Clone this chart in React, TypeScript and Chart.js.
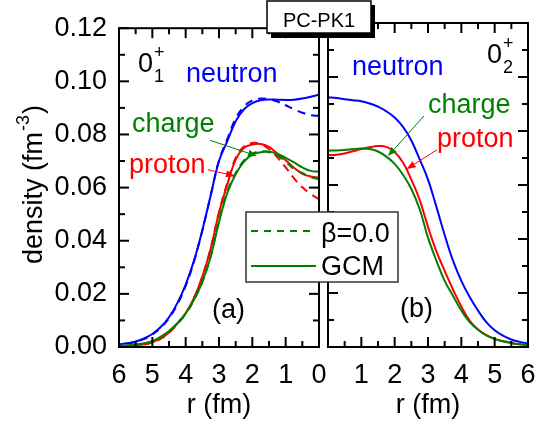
import React, { useEffect, useRef } from "react";
import { Chart, registerables } from "chart.js";

Chart.register(...registerables);

const FONT = "'Liberation Sans', Arial, Helvetica, sans-serif";
const W = 548;
const H = 423;

// radius grid (fm)
const radius = [0, 0.25, 0.5, 0.75, 1, 1.25, 1.5, 1.75, 2, 2.25, 2.5, 2.75, 3, 3.25, 3.5, 3.75, 4, 4.25, 4.5, 4.75, 5, 5.25, 5.5, 5.75, 6];

// panel (a): 0_1^+
const neutronGcmA = [0.0950, 0.0942, 0.0935, 0.0931, 0.0930, 0.0931, 0.0932, 0.0929, 0.0918, 0.0895, 0.0850, 0.0775, 0.0700, 0.0570, 0.0440, 0.0325, 0.0235, 0.0165, 0.0112, 0.0075, 0.0049, 0.0032, 0.0021, 0.0014, 0.0010];
const neutronBetaA = [0.0870, 0.0873, 0.0882, 0.0895, 0.0910, 0.0924, 0.0933, 0.0935, 0.0928, 0.0905, 0.0860, 0.0783, 0.0702, 0.0570, 0.0438, 0.0322, 0.0230, 0.0160, 0.0108, 0.0072, 0.0047, 0.0030, 0.0020, 0.0013, 0.0009];
const protonGcmA = [0.0637, 0.0642, 0.0652, 0.0675, 0.0703, 0.0728, 0.0753, 0.0764, 0.0762, 0.0750, 0.0705, 0.0612, 0.0505, 0.0370, 0.0265, 0.0185, 0.0128, 0.0088, 0.0055, 0.0032, 0.0018, 0.0010, 0.0005, 0.0003, 0.0002];
const protonBetaA = [0.0556, 0.0576, 0.0601, 0.0635, 0.0676, 0.0714, 0.0745, 0.0764, 0.0768, 0.0755, 0.0712, 0.0618, 0.0508, 0.0372, 0.0265, 0.0184, 0.0126, 0.0086, 0.0054, 0.0031, 0.0017, 0.0009, 0.0005, 0.0003, 0.0002];
const chargeGcmA = [0.0660, 0.0663, 0.0676, 0.0695, 0.0712, 0.0727, 0.0736, 0.0733, 0.0724, 0.0698, 0.0650, 0.0580, 0.0470, 0.0340, 0.0245, 0.0178, 0.0126, 0.0090, 0.0060, 0.0038, 0.0022, 0.0014, 0.0009, 0.0006, 0.0004];
const chargeBetaA = [0.0631, 0.0640, 0.0655, 0.0670, 0.0698, 0.0720, 0.0733, 0.0736, 0.0728, 0.0702, 0.0655, 0.0585, 0.0475, 0.0342, 0.0245, 0.0177, 0.0125, 0.0089, 0.0059, 0.0037, 0.0022, 0.0014, 0.0009, 0.0006, 0.0004];

// panel (b): 0_2^+
const neutronB = [0.0925, 0.0922, 0.0918, 0.0914, 0.0910, 0.0902, 0.0890, 0.0873, 0.0850, 0.0815, 0.0765, 0.0695, 0.0620, 0.0520, 0.0415, 0.0320, 0.0245, 0.0185, 0.0135, 0.0092, 0.0062, 0.0042, 0.0028, 0.0019, 0.0013];
const protonB = [0.0711, 0.0712, 0.0717, 0.0725, 0.0733, 0.0740, 0.0744, 0.0741, 0.0722, 0.0683, 0.0620, 0.0545, 0.0445, 0.0355, 0.0282, 0.0213, 0.0150, 0.0098, 0.0065, 0.0044, 0.0030, 0.0021, 0.0015, 0.0010, 0.0007];
const chargeB = [0.0727, 0.0728, 0.0730, 0.0733, 0.0735, 0.0733, 0.0724, 0.0705, 0.0678, 0.0638, 0.0585, 0.0510, 0.0405, 0.0320, 0.0245, 0.0190, 0.0135, 0.0092, 0.0064, 0.0043, 0.0030, 0.0021, 0.0015, 0.0010, 0.0007];

// ticks
const xTickValues = [0, 1, 2, 3, 4, 5, 6];
const xMinorValues = [0.5, 1.5, 2.5, 3.5, 4.5, 5.5];
const yTickValues = [0, 0.02, 0.04, 0.06, 0.08, 0.1, 0.12];
const yMinorValues = [0.01, 0.03, 0.05, 0.07, 0.09, 0.11];

const BLUE = "#0000ff";
const RED = "#ff0000";
const GREEN = "#008000";

function pts(ys: number[]) {
  return radius.map((r, i) => ({ x: r, y: ys[i] }));
}

function ds(label: string, ys: number[], color: string, dashed: boolean) {
  return {
    label,
    data: pts(ys),
    borderColor: color,
    backgroundColor: color,
    borderWidth: 2,
    borderDash: dashed ? [8, 6] : [],
    pointRadius: 0,
    tension: 0.4,
    fill: false,
  };
}

type Ann = { text: string; r: number; d: number; color: string };
type Arrow = { r0: number; d0: number; r1: number; d1: number; color: string };

const labelsA: Ann[] = [
  { text: "neutron", r: 3.99, d: 0.0996, color: BLUE },
  { text: "charge", r: 5.61, d: 0.0811, color: GREEN },
  { text: "proton", r: 5.7, d: 0.0656, color: RED },
  { text: "(a)", r: 3.21, d: 0.0111, color: "#000" },
];
const arrowsA: Arrow[] = [
  { r0: 3.27, d0: 0.0778, r1: 1.86, d1: 0.0719, color: GREEN },
  { r0: 3.33, d0: 0.0667, r1: 2.52, d1: 0.0644, color: RED },
];
const labelsB: Ann[] = [
  { text: "neutron", r: 0.72, d: 0.1007, color: BLUE },
  { text: "charge", r: 3.0, d: 0.0867, color: GREEN },
  { text: "proton", r: 3.27, d: 0.0741, color: RED },
  { text: "(b)", r: 2.16, d: 0.0111, color: "#000" },
];
const arrowsB: Arrow[] = [
  { r0: 2.88, d0: 0.0856, r1: 1.8, d1: 0.0707, color: GREEN },
  { r0: 3.27, d0: 0.073, r1: 2.36, d1: 0.0659, color: RED },
];

function drawArrow(ctx: CanvasRenderingContext2D, x0: number, y0: number, x1: number, y1: number, color: string) {
  const ang = Math.atan2(y1 - y0, x1 - x0);
  const hl = 9;
  const hw = 3.5;
  ctx.save();
  ctx.strokeStyle = color;
  ctx.fillStyle = color;
  ctx.lineWidth = 1;
  ctx.beginPath();
  ctx.moveTo(x0, y0);
  ctx.lineTo(x1 - hl * Math.cos(ang), y1 - hl * Math.sin(ang));
  ctx.stroke();
  ctx.beginPath();
  ctx.moveTo(x1, y1);
  ctx.lineTo(x1 - hl * Math.cos(ang) + hw * Math.sin(ang), y1 - hl * Math.sin(ang) - hw * Math.cos(ang));
  ctx.lineTo(x1 - hl * Math.cos(ang) - hw * Math.sin(ang), y1 - hl * Math.sin(ang) + hw * Math.cos(ang));
  ctx.closePath();
  ctx.fill();
  ctx.restore();
}

function drawState(ctx: CanvasRenderingContext2D, px: number, py: number, sub: string) {
  ctx.save();
  ctx.fillStyle = "#000";
  ctx.textAlign = "left";
  ctx.textBaseline = "alphabetic";
  ctx.font = `27px ${FONT}`;
  ctx.fillText("0", px, py);
  ctx.font = `18px ${FONT}`;
  ctx.fillText("+", px + 16, py - 14);
  ctx.fillText(sub, px + 16, py + 10);
  ctx.restore();
}

function panelPlugin(labels: Ann[], arrows: Arrow[], state: { r: number; d: number; sub: string }, extra?: (ctx: CanvasRenderingContext2D, chart: any) => void) {
  return {
    id: "panel",
    afterDatasetsDraw(chart: any) {
      const { ctx, chartArea: a } = chart;
      const xs = chart.scales.x;
      const ys = chart.scales.y;
      ctx.save();
      ctx.strokeStyle = "#000";
      ctx.lineWidth = 2;
      ctx.lineCap = "butt";
      const seg = (x0: number, y0: number, x1: number, y1: number) => {
        ctx.beginPath();
        ctx.moveTo(x0, y0);
        ctx.lineTo(x1, y1);
        ctx.stroke();
      };
      const xt = (v: number, len: number) => {
        const px = xs.getPixelForValue(v);
        seg(px, a.bottom, px, a.bottom - len);
        seg(px, a.top, px, a.top + len);
      };
      const yt = (v: number, len: number) => {
        const py = ys.getPixelForValue(v);
        seg(a.left, py, a.left + len, py);
        seg(a.right, py, a.right - len, py);
      };
      xTickValues.forEach((v) => xt(v, 10));
      xMinorValues.forEach((v) => xt(v, 6));
      yTickValues.forEach((v) => yt(v, 10));
      yMinorValues.forEach((v) => yt(v, 6));
      ctx.strokeRect(a.left, a.top, a.right - a.left, a.bottom - a.top);
      ctx.restore();

      ctx.save();
      ctx.textAlign = "left";
      ctx.textBaseline = "alphabetic";
      ctx.font = `27px ${FONT}`;
      labels.forEach((l) => {
        ctx.fillStyle = l.color;
        ctx.fillText(l.text, xs.getPixelForValue(l.r), ys.getPixelForValue(l.d));
      });
      ctx.restore();
      arrows.forEach((ar) =>
        drawArrow(ctx, xs.getPixelForValue(ar.r0), ys.getPixelForValue(ar.d0), xs.getPixelForValue(ar.r1), ys.getPixelForValue(ar.d1), ar.color)
      );
      drawState(ctx, xs.getPixelForValue(state.r), ys.getPixelForValue(state.d), state.sub);
    },
    afterDraw(chart: any) {
      if (extra) extra(chart.ctx, chart);
    },
  };
}

function yTitle(ctx: CanvasRenderingContext2D) {
  ctx.save();
  ctx.translate(42, 264);
  ctx.rotate(-Math.PI / 2);
  ctx.fillStyle = "#000";
  ctx.textAlign = "left";
  ctx.textBaseline = "alphabetic";
  ctx.font = `27px ${FONT}`;
  const main = "density (fm";
  ctx.fillText(main, 0, 0);
  const w1 = ctx.measureText(main).width;
  ctx.font = `18px ${FONT}`;
  const sup = "-3";
  ctx.fillText(sup, w1 + 1, -13);
  const w2 = ctx.measureText(sup).width;
  ctx.font = `27px ${FONT}`;
  ctx.fillText(")", w1 + w2 + 2, 0);
  ctx.restore();
}

function overlay(ctx: CanvasRenderingContext2D) {
  // PC-PK1 box
  ctx.save();
  ctx.fillStyle = "#000";
  ctx.fillRect(271, 5, 104, 33);
  ctx.fillStyle = "#fff";
  ctx.fillRect(267, 1, 104, 32);
  ctx.strokeStyle = "#000";
  ctx.lineWidth = 1.5;
  ctx.strokeRect(267, 1, 104, 32);
  ctx.fillStyle = "#000";
  ctx.font = `20px ${FONT}`;
  ctx.textAlign = "center";
  ctx.textBaseline = "alphabetic";
  ctx.fillText("PC-PK1", 319, 27);
  ctx.restore();

  // legend
  ctx.save();
  ctx.fillStyle = "#fff";
  ctx.fillRect(246, 212, 152, 70);
  ctx.strokeStyle = "#333";
  ctx.lineWidth = 1.5;
  ctx.strokeRect(246, 212, 152, 70);
  ctx.strokeStyle = GREEN;
  ctx.lineWidth = 2;
  ctx.setLineDash([7, 6]);
  ctx.beginPath();
  ctx.moveTo(251, 231);
  ctx.lineTo(316, 231);
  ctx.stroke();
  ctx.setLineDash([]);
  ctx.beginPath();
  ctx.moveTo(251, 266);
  ctx.lineTo(316, 266);
  ctx.stroke();
  ctx.fillStyle = "#000";
  ctx.font = `27px ${FONT}`;
  ctx.textAlign = "left";
  ctx.fillText("\u03b2=0.0", 321, 242);
  ctx.fillText("GCM", 321, 275);
  ctx.restore();
}

function makeOptions(reverse: boolean, isLeft: boolean) {
  return {
    responsive: false,
    animation: false as const,
    events: [] as any[],
    layout: {
      padding: isLeft ? { left: 0, right: W - 319, top: 23, bottom: 0 } : { left: 328, right: W - 528, top: 23, bottom: 0 },
    },
    plugins: { legend: { display: false }, tooltip: { enabled: false } },
    scales: {
      x: {
        type: "linear" as const,
        min: 0,
        max: 6,
        reverse,
        afterBuildTicks: (s: any) => {
          s.ticks = xTickValues.map((v) => ({ value: v }));
        },
        afterFit: (s: any) => {
          s.height = 76;
        },
        grid: { display: false, drawTicks: false, tickLength: 0 },
        border: { display: false },
        ticks: {
          autoSkip: false,
          maxRotation: 0,
          padding: 12,
          color: "#000",
          font: { size: 27, family: FONT },
          callback: (v: any) => (!isLeft && v === 0 ? "" : String(v)),
        },
        title: {
          display: true,
          text: "r (fm)",
          color: "#000",
          font: { size: 27, family: FONT },
          padding: { top: 0, bottom: 1 },
        },
      },
      y: {
        type: "linear" as const,
        min: 0,
        max: 0.12,
        display: isLeft,
        afterBuildTicks: (s: any) => {
          s.ticks = yTickValues.map((v) => ({ value: v }));
        },
        afterFit: (s: any) => {
          s.width = isLeft ? 119 : 0;
        },
        grid: { display: false, drawTicks: false, tickLength: 0 },
        border: { display: false },
        ticks: {
          padding: 12,
          color: "#000",
          font: { size: 27, family: FONT },
          callback: (v: any) => Number(v).toFixed(2),
        },
      },
    },
  };
}

export default function App() {
  const leftRef = useRef<HTMLCanvasElement | null>(null);
  const rightRef = useRef<HTMLCanvasElement | null>(null);

  useEffect(() => {
    document.body.style.margin = "0";
    Chart.defaults.font.family = FONT;
    Chart.defaults.color = "#000";

    const left = new Chart(leftRef.current as HTMLCanvasElement, {
      type: "line",
      data: {
        datasets: [
          ds("charge GCM", chargeGcmA, GREEN, false),
          ds("charge beta=0", chargeBetaA, GREEN, true),
          ds("proton GCM", protonGcmA, RED, false),
          ds("proton beta=0", protonBetaA, RED, true),
          ds("neutron GCM", neutronGcmA, BLUE, false),
          ds("neutron beta=0", neutronBetaA, BLUE, true),
        ] as any,
      },
      options: makeOptions(true, true) as any,
      plugins: [panelPlugin(labelsA, arrowsA, { r: 5.43, d: 0.1037, sub: "1" }, (ctx) => yTitle(ctx)) as any],
    });

    const right = new Chart(rightRef.current as HTMLCanvasElement, {
      type: "line",
      data: {
        datasets: [
          ds("charge GCM", chargeB, GREEN, false),
          ds("proton GCM", protonB, RED, false),
          ds("neutron GCM", neutronB, BLUE, false),
        ] as any,
      },
      options: makeOptions(false, false) as any,
      plugins: [panelPlugin(labelsB, arrowsB, { r: 4.77, d: 0.1052, sub: "2" }, (ctx) => overlay(ctx)) as any],
    });

    return () => {
      left.destroy();
      right.destroy();
    };
  }, []);

  return (
    <div style={{ position: "absolute", left: 0, top: 0, width: W, height: H, background: "#fff" }}>
      <canvas ref={leftRef} width={W} height={H} style={{ position: "absolute", left: 0, top: 0 }} />
      <canvas ref={rightRef} width={W} height={H} style={{ position: "absolute", left: 0, top: 0 }} />
    </div>
  );
}
